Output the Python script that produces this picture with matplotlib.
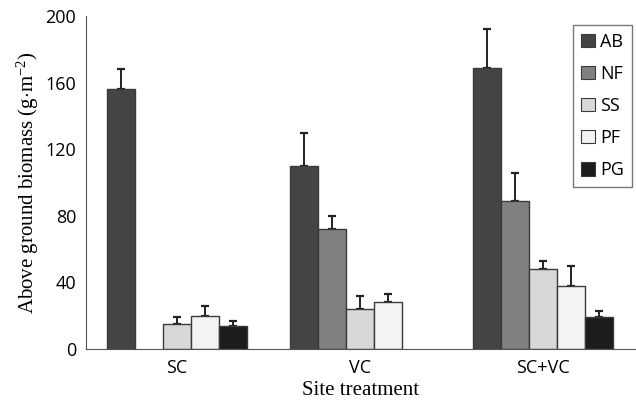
import numpy as np
import matplotlib
matplotlib.use('Agg')
import matplotlib.pyplot as plt

# Data
groups = ['SC', 'VC', 'SC+VC']
species = ['AB', 'NF', 'SS', 'PF', 'PG']
colors = ['#444444', '#808080', '#d8d8d8', '#f3f3f3', '#1c1c1c']

ab = [156, 110, 169]
nf = [0, 72, 89]
ss = [15, 24, 48]
pf = [20, 28, 38]
pg = [14, 0, 19]

ab_err = [12, 20, 23]
nf_err = [0, 8, 17]
ss_err = [4, 8, 5]
pf_err = [6, 5, 12]
pg_err = [3, 0, 4]

values = [ab, nf, ss, pf, pg]
errors = [ab_err, nf_err, ss_err, pf_err, pg_err]

plt.rcParams['mathtext.fontset'] = 'custom'
plt.rcParams['mathtext.rm'] = 'Liberation Serif'
plt.rcParams['mathtext.it'] = 'Liberation Serif:italic'

fig = plt.figure(figsize=(6.36, 4.04), dpi=100, facecolor='white')
ax = fig.add_axes([0.135, 0.136, 0.865, 0.824])

x = np.arange(len(groups))
bar_width = 0.153

for i, sp in enumerate(species):
    pos = x + (i - 2) * bar_width
    vals = np.array(values[i], dtype=float)
    errs = np.array(errors[i], dtype=float)
    mask = vals > 0
    ax.bar(pos[mask], vals[mask], width=bar_width, color=colors[i],
           edgecolor='#3a3a3a', linewidth=1.0, label=sp, zorder=2)
    ax.errorbar(pos[mask], vals[mask], yerr=[np.zeros(mask.sum()), errs[mask]],
                fmt='none', ecolor='#222222', elinewidth=1.4, capsize=3,
                capthick=1.6, zorder=1)

# legend built from explicit patches so every species shows up
handles = [plt.Rectangle((0, 0), 1, 1, facecolor=c, edgecolor='#3a3a3a', linewidth=0.8)
           for c in colors]
leg = ax.legend(handles, species, loc='upper right', bbox_to_anchor=(1.0, 0.985),
                frameon=True, fancybox=False, edgecolor='#555555',
                labelspacing=0.78, handlelength=0.75, handleheight=0.75,
                handletextpad=0.3, borderpad=0.45, borderaxespad=0.2,
                prop={'family': 'Open Sans', 'size': 13})
leg.get_frame().set_linewidth(1.0)

ax.set_ylim(0, 200)
ax.set_xlim(-0.497, 2.508)
ax.set_yticks([0, 40, 80, 120, 160, 200])
ax.set_xticks(x)
ax.set_xticklabels(groups, fontsize=13, family='Open Sans')
for lab in ax.get_yticklabels():
    lab.set_fontfamily('Open Sans')
    lab.set_fontsize(13)
ax.tick_params(axis='both', length=0, pad=7)

ax.spines['top'].set_visible(False)
ax.spines['right'].set_visible(False)
ax.spines['left'].set_color('#555555')
ax.spines['bottom'].set_color('#555555')

ax.set_xlabel('Site treatment', fontsize=15, family='Liberation Serif', labelpad=3)
ax.set_ylabel(r'Above ground biomass (g$\cdot$m$^{-2}$)', fontsize=15,
              family='Liberation Serif', labelpad=3)

plt.savefig('out.png', dpi=100, facecolor='white')
